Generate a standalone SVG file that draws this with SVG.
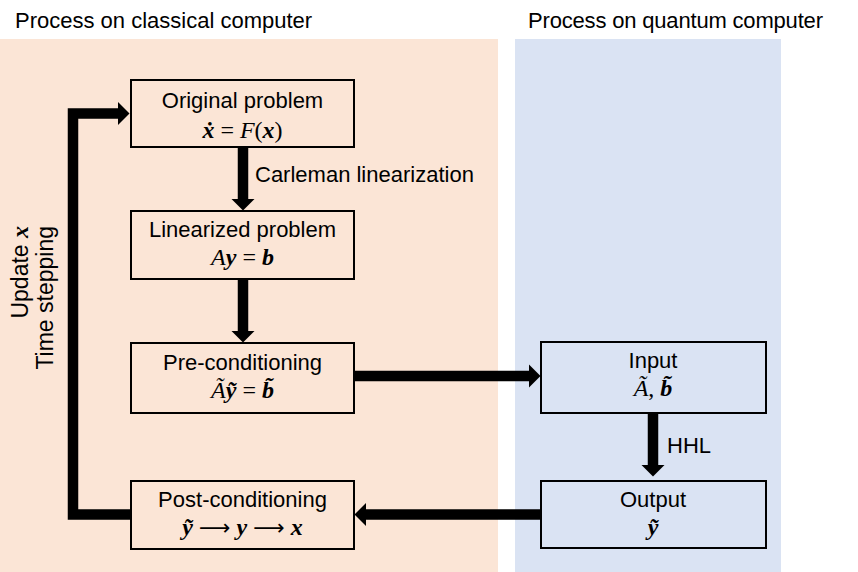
<svg xmlns="http://www.w3.org/2000/svg" width="858" height="572" viewBox="0 0 858 572">
<defs>
<style>
.t{font-family:"Liberation Sans",Arial,sans-serif;font-size:22px;fill:#000}
.m{font-family:"Liberation Serif","DejaVu Serif",serif;font-size:24px;fill:#000}
.bi{font-weight:bold;font-style:italic}
.i{font-style:italic}
.box{stroke:#000;stroke-width:2}
.c{fill:#FBE5D6}
.q{fill:#DAE3F3}
.arr{fill:none;stroke:#000;stroke-width:10.5}
.rot{font-size:23px}
</style>
<marker id="ah" markerUnits="userSpaceOnUse" markerWidth="12" markerHeight="23" refX="0" refY="11.5" orient="auto" overflow="visible">
<path d="M0,0 L11.5,11.5 L0,23 z" fill="#000"/>
</marker>
</defs>
<rect width="858" height="572" fill="#fff"/>
<rect x="0" y="39" width="498" height="533" class="c"/>
<rect x="515" y="39" width="266" height="533" class="q"/>
<text class="t" x="15" y="28">Process on classical computer</text>
<text class="t" x="528" y="28" textLength="295">Process on quantum computer</text>

<g id="connectors">
<path class="arr" d="M243,148 V199" marker-end="url(#ah)"/>
<path class="arr" d="M243,280 V331" marker-end="url(#ah)"/>
<path class="arr" d="M355,376 H529" marker-end="url(#ah)"/>
<path class="arr" d="M653,414 V465" marker-end="url(#ah)"/>
<path class="arr" d="M540,514.5 H366" marker-end="url(#ah)"/>
<path class="arr" d="M131,514.5 H73 V113.5 H118" stroke-linejoin="miter" marker-end="url(#ah)"/>
<text class="t" x="255" y="182">Carleman linearization</text>
<text class="t" x="667" y="453">HHL</text>
<text class="t rot" transform="translate(28,226) rotate(-90)" text-anchor="end">Update <tspan class="m bi">x</tspan></text>
<text class="t rot" transform="translate(53,226) rotate(-90)" text-anchor="end">Time stepping</text>
</g>

<g id="original">
<rect x="131" y="80" width="223" height="67" class="box c"/>
<text class="t" x="242.5" y="108" text-anchor="middle">Original problem</text>
<text class="m" x="242.5" y="138" text-anchor="middle"><tspan class="bi">ẋ</tspan> = <tspan class="i">F</tspan>(<tspan class="bi">x</tspan>)</text>
</g>
<g id="linearized">
<rect x="131" y="211" width="223" height="68" class="box c"/>
<text class="t" x="242.5" y="237" text-anchor="middle">Linearized problem</text>
<text class="m" x="242.5" y="265" text-anchor="middle"><tspan class="i">A</tspan><tspan class="bi">y</tspan> = <tspan class="bi">b</tspan></text>
</g>
<g id="precond">
<rect x="131" y="343" width="223" height="70" class="box c"/>
<text class="t" x="242.5" y="370" text-anchor="middle">Pre-conditioning</text>
<text class="m" x="242.5" y="398" text-anchor="middle"><tspan class="i">Ã</tspan><tspan class="bi">ỹ</tspan> = <tspan class="bi">b̃</tspan></text>
</g>
<g id="postcond">
<rect x="131" y="481" width="223" height="68" class="box c"/>
<text class="t" x="242.5" y="507" text-anchor="middle">Post-conditioning</text>
<text class="m" x="242.5" y="535" text-anchor="middle"><tspan class="bi">ỹ</tspan> <tspan font-family="DejaVu Sans" font-size="22">⟶</tspan> <tspan class="bi">y</tspan> <tspan font-family="DejaVu Sans" font-size="22">⟶</tspan> <tspan class="bi">x</tspan></text>
</g>
<g id="input">
<rect x="541" y="342" width="225" height="71" class="box q"/>
<text class="t" x="653" y="368" text-anchor="middle">Input</text>
<text class="m" x="653" y="396" text-anchor="middle"><tspan class="i">Ã</tspan>, <tspan class="bi">b̃</tspan></text>
</g>
<g id="output">
<rect x="541" y="481" width="225" height="67" class="box q"/>
<text class="t" x="653" y="507" text-anchor="middle">Output</text>
<text class="m" x="653" y="535" text-anchor="middle"><tspan class="bi">ỹ</tspan></text>
</g>
</svg>
